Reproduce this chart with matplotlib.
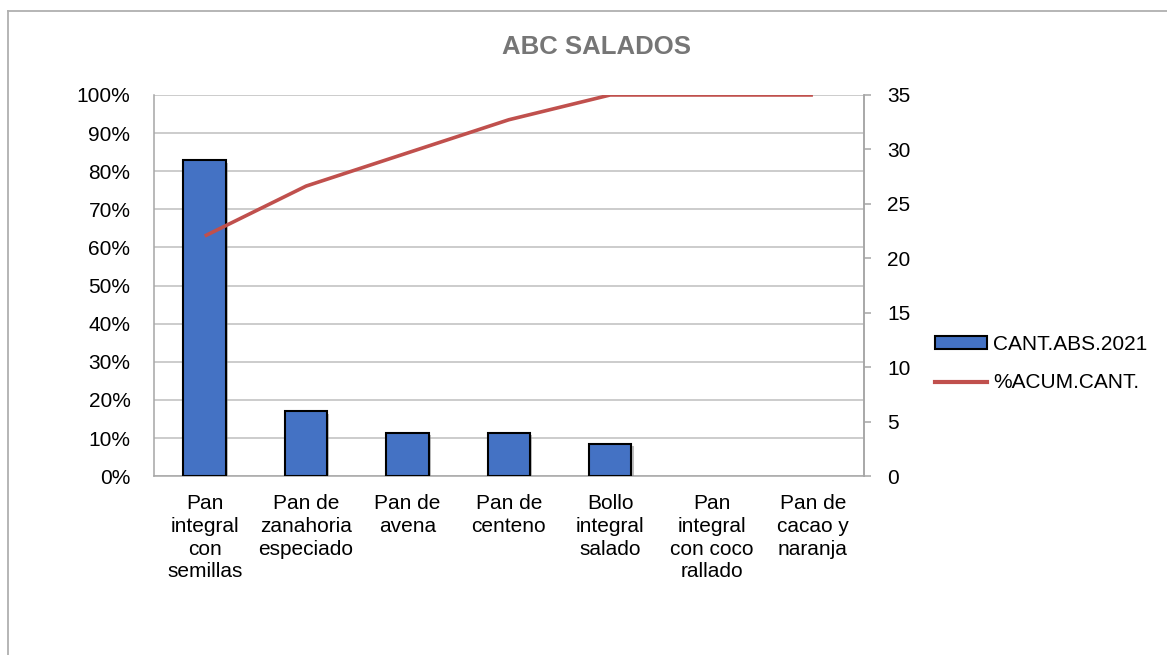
import matplotlib
matplotlib.use("Agg")
import matplotlib.pyplot as plt
from matplotlib.ticker import PercentFormatter, MultipleLocator
from matplotlib.lines import Line2D
from matplotlib.patches import Patch
import matplotlib.patheffects as pe

# Data
productos = [
    "Pan\nintegral\ncon\nsemillas",
    "Pan de\nzanahoria\nespeciado",
    "Pan de\navena",
    "Pan de\ncenteno",
    "Bollo\nintegral\nsalado",
    "Pan\nintegral\ncon coco\nrallado",
    "Pan de\ncacao y\nnaranja",
]
cant_abs_2021 = [29, 6, 4, 4, 3, 0, 0]
pct_acum_cant = [0.630, 0.761, 0.848, 0.935, 1.0, 1.0, 1.0]

plt.rcParams["font.family"] = ["Liberation Sans", "DejaVu Sans"]
FS = 15

fig = plt.figure(figsize=(11.67, 6.55), dpi=100)
fig.patch.set_facecolor("white")

ax = fig.add_axes([0.132, 0.273, 0.608, 0.582])
ax2 = ax.twinx()
ax3 = ax.twinx()

x = list(range(len(productos)))

# Left axis: cumulative percentage scale with gridlines
ax.set_xlim(-0.5, len(productos) - 0.5)
ax.set_ylim(0, 1)
ax.yaxis.set_major_locator(MultipleLocator(0.1))
ax.yaxis.set_major_formatter(PercentFormatter(xmax=1, decimals=0))
ax.grid(axis="y", color="#BFBFBF", linewidth=1.1)
ax.set_axisbelow(True)
ax.tick_params(axis="y", length=0, pad=17, labelsize=FS)
ax.set_xticks(x)
ax.set_xticklabels(productos, fontsize=FS, linespacing=1.25)
ax.tick_params(axis="x", length=0, pad=13)

grey = "#A6A6A6"
for name, sp in ax.spines.items():
    sp.set_color(grey)
    sp.set_linewidth(1.1)
ax.spines["top"].set_visible(False)

# Right axis: absolute quantities as bars
bars = ax2.bar(x, cant_abs_2021, width=0.42, color="#4472C4",
               edgecolor="black", linewidth=1.5, zorder=3)
for b, v in zip(bars, cant_abs_2021):
    if v == 0:
        b.set_linewidth(0)
        continue
    b.set_path_effects([pe.SimplePatchShadow(offset=(1.5, -2), shadow_rgbFace="#808080", alpha=0.5),
                        pe.Normal()])
ax2.set_ylim(0, 35)
ax2.yaxis.set_major_locator(MultipleLocator(5))
ax2.tick_params(axis="y", direction="out", length=5, width=1.1, color=grey,
                pad=12, labelsize=FS)
for name, sp in ax2.spines.items():
    sp.set_visible(False)
ax2.spines["right"].set_visible(True)
ax2.spines["right"].set_color(grey)
ax2.spines["right"].set_linewidth(1.1)

# Cumulative percentage line on the same scale as the left axis
ax3.set_ylim(0, 1)
ax3.plot(x, pct_acum_cant, color="#C0504D", linewidth=2.6, solid_capstyle="butt", zorder=5)
ax3.set_yticks([])
for sp in ax3.spines.values():
    sp.set_visible(False)

fig.text(0.511, 0.928, "ABC SALADOS", ha="center", va="center",
         fontsize=18.5, fontweight="bold", color="#767676")

handles = [
    Patch(facecolor="#4472C4", edgecolor="black", linewidth=1.5),
    Line2D([0], [0], color="#C0504D", linewidth=3),
]
fig.legend(handles, ["CANT.ABS.2021", "%ACUM.CANT."], loc="center left",
           bbox_to_anchor=(0.794, 0.445), frameon=False, fontsize=FS,
           handlelength=2.5, handleheight=0.55, handletextpad=0.3,
           labelspacing=0.95, borderaxespad=0)

# Outer chart frame (top and left edges)
frame_kw = dict(color="#B0B0B0", linewidth=1.3, transform=fig.transFigure)
fig.add_artist(Line2D([8 / 1167, 1.0], [1 - 11 / 655, 1 - 11 / 655], **frame_kw))
fig.add_artist(Line2D([8 / 1167, 8 / 1167], [0.0, 1 - 11 / 655], **frame_kw))

fig.savefig("out.png", dpi=100, facecolor="white")
